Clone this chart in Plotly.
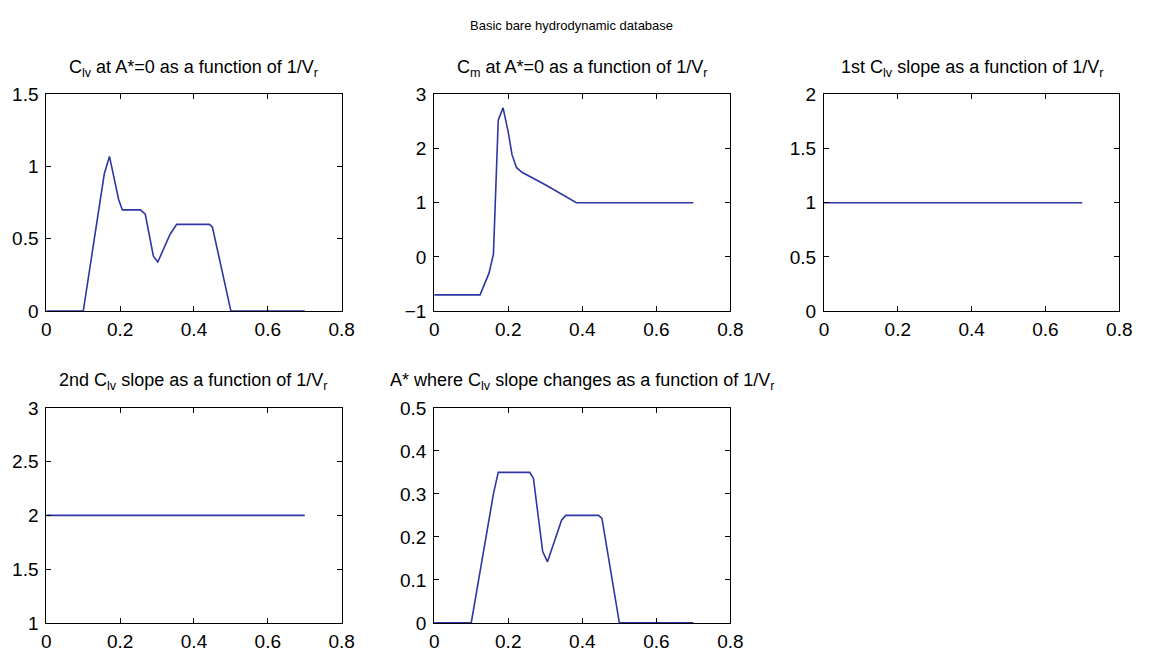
import plotly.graph_objects as go

# ---- data ----
inv_vr_clv = [0, 0.10, 0.157, 0.171, 0.196, 0.206, 0.255, 0.268, 0.29, 0.302, 0.335, 0.353, 0.442, 0.45, 0.5, 0.7]
clv_a0 = [0, 0, 0.95, 1.07, 0.77, 0.70, 0.70, 0.67, 0.38, 0.34, 0.53, 0.60, 0.60, 0.58, 0, 0]

inv_vr_cm = [0, 0.124, 0.148, 0.16, 0.173, 0.186, 0.2, 0.21, 0.222, 0.237, 0.3, 0.384, 0.7]
cm_a0 = [-0.7, -0.7, -0.3, 0.05, 2.52, 2.75, 2.3, 1.89, 1.65, 1.56, 1.33, 1.0, 1.0]

inv_vr_slope = [0, 0.7]
slope1 = [1, 1]
slope2 = [2, 2]

inv_vr_astar = [0, 0.1, 0.16, 0.173, 0.258, 0.268, 0.293, 0.306, 0.344, 0.355, 0.444, 0.453, 0.5, 0.7]
astar_change = [0, 0, 0.30, 0.35, 0.35, 0.336, 0.166, 0.142, 0.239, 0.25, 0.25, 0.243, 0, 0]

titles = [
    "C<sub>lv</sub> at A*=0 as a function of 1/V<sub>r</sub>",
    "C<sub>m</sub> at A*=0 as a function of 1/V<sub>r</sub>",
    "1st C<sub>lv</sub> slope as a function of 1/V<sub>r</sub>",
    "2nd C<sub>lv</sub> slope as a function of 1/V<sub>r</sub>",
    "A* where C<sub>lv</sub> slope changes as a function of 1/V<sub>r</sub>",
]
suptitle = "Basic bare hydrodynamic database"

y_ranges = [[0, 1.5], [-1, 3], [0, 2], [1, 3], [0, 0.5]]
y_dticks = [0.5, 1, 0.5, 0.5, 0.1]

# ---- layout geometry (pixels) ----
W, H = 1150, 661
cols = [(42, 342), (436, 737), (832, 1132)]
rows = [(87, 311), (411, 633)]
cells = [(0, 0), (0, 1), (0, 2), (1, 0), (1, 1)]

LINE = "#2d36a3"
FONT = "Liberation Sans, Arial, Helvetica, sans-serif"

fig = go.Figure()
series = [
    (inv_vr_clv, clv_a0),
    (inv_vr_cm, cm_a0),
    (inv_vr_slope, slope1),
    (inv_vr_slope, slope2),
    (inv_vr_astar, astar_change),
]

layout = dict(
    width=W, height=H,
    margin=dict(l=0, r=0, t=0, b=0),
    paper_bgcolor="white", plot_bgcolor="white",
    showlegend=False,
    font=dict(family=FONT, color="black", size=16),
)
annotations = []
for i, ((r, c), (xs, ys)) in enumerate(zip(cells, series)):
    n = "" if i == 0 else str(i + 1)
    x0, x1 = cols[c]
    y0, y1 = rows[r]
    fig.add_trace(go.Scatter(x=xs, y=ys, mode="lines",
                             line=dict(color=LINE, width=1.6),
                             xaxis="x" + n, yaxis="y" + n))
    axcommon = dict(showline=True, linecolor="black", linewidth=1, mirror="ticks",
                    ticks="inside", ticklen=5, tickcolor="black", tickwidth=1,
                    showgrid=False, zeroline=False,
                    tickfont=dict(size=19, family=FONT, color="black"))
    layout["xaxis" + n] = dict(domain=[x0 / W, x1 / W], range=[0, 0.8], dtick=0.2,
                               tick0=0, anchor="y" + n, ticklabelstandoff=1, **axcommon)
    layout["yaxis" + n] = dict(domain=[(H - y1) / H, (H - y0) / H], range=y_ranges[i],
                               dtick=y_dticks[i], tick0=0, anchor="x" + n,
                               ticklabelstandoff=3, **axcommon)
    annotations.append(dict(text=titles[i], xref="paper", yref="paper",
                            x=(x0 + x1) / 2 / W, y=(H - (y0 - 13)) / H,
                            xanchor="center", yanchor="bottom", showarrow=False,
                            font=dict(size=18, family=FONT, color="black")))

annotations.append(dict(text=suptitle, xref="paper", yref="paper",
                        x=0.5, y=(H - 16) / H, xanchor="center", yanchor="middle",
                        showarrow=False, font=dict(size=13, family=FONT, color="black")))
layout["annotations"] = annotations
fig.update_layout(**layout)
fig.write_html("out.html")
